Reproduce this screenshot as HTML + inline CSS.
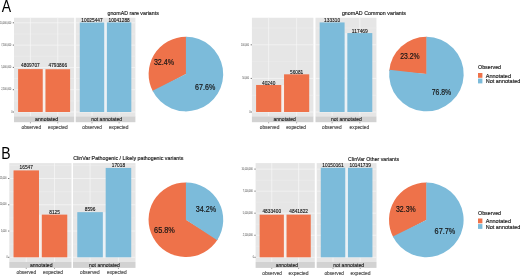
<!DOCTYPE html>
<html><head><meta charset="utf-8"><title>Figure</title>
<style>
html,body{margin:0;padding:0;background:#fff;}
body{width:520px;height:276px;overflow:hidden;font-family:"Liberation Sans",sans-serif;}
svg{display:block;will-change:transform;}
svg text{font-family:"Liberation Sans",sans-serif;}
</style></head><body>
<svg width="520" height="276" viewBox="0 0 520 276">
<rect x="0" y="0" width="520" height="276" fill="#ffffff"/>
<text transform="translate(1.7,11.6) scale(0.845,1)" x="0" y="0" font-size="16.6" fill="#000">A</text>
<text transform="translate(1.34,158.6) scale(0.845,1)" x="0" y="0" font-size="16.6" fill="#000">B</text>
<text x="107.50" y="14.75" font-size="5.8" fill="#1a1a1a" text-anchor="start" textLength="51.30" lengthAdjust="spacingAndGlyphs" stroke="#1a1a1a" stroke-width="0.16">gnomAD rare variants</text>
<rect x="14.00" y="17.75" width="60.20" height="98.75" fill="#E6E6E6"/>
<line x1="14.00" y1="112.00" x2="74.20" y2="112.00" stroke="#F9F9F9" stroke-width="0.65"/>
<line x1="14.00" y1="100.85" x2="74.20" y2="100.85" stroke="#F2F2F2" stroke-width="0.35"/>
<line x1="14.00" y1="89.70" x2="74.20" y2="89.70" stroke="#F9F9F9" stroke-width="0.65"/>
<line x1="14.00" y1="78.55" x2="74.20" y2="78.55" stroke="#F2F2F2" stroke-width="0.35"/>
<line x1="14.00" y1="67.40" x2="74.20" y2="67.40" stroke="#F9F9F9" stroke-width="0.65"/>
<line x1="14.00" y1="56.25" x2="74.20" y2="56.25" stroke="#F2F2F2" stroke-width="0.35"/>
<line x1="14.00" y1="45.10" x2="74.20" y2="45.10" stroke="#F9F9F9" stroke-width="0.65"/>
<line x1="14.00" y1="33.95" x2="74.20" y2="33.95" stroke="#F2F2F2" stroke-width="0.35"/>
<line x1="14.00" y1="22.80" x2="74.20" y2="22.80" stroke="#F9F9F9" stroke-width="0.65"/>
<line x1="30.42" y1="17.75" x2="30.42" y2="116.50" stroke="#F9F9F9" stroke-width="0.65"/>
<line x1="57.78" y1="17.75" x2="57.78" y2="116.50" stroke="#F9F9F9" stroke-width="0.65"/>
<rect x="42.73" y="69.24" width="2.74" height="42.76" fill="#F7EEEA"/>
<rect x="18.10" y="69.10" width="24.63" height="42.90" fill="#EE724A"/>
<text x="30.42" y="67.35" font-size="4.7" fill="#111" text-anchor="middle" textLength="18.62" lengthAdjust="spacingAndGlyphs" stroke="#111" stroke-width="0.1">4809707</text>
<rect x="45.47" y="69.24" width="24.63" height="42.76" fill="#EE724A"/>
<text x="57.78" y="67.49" font-size="4.7" fill="#111" text-anchor="middle" textLength="18.62" lengthAdjust="spacingAndGlyphs" stroke="#111" stroke-width="0.1">4793866</text>
<rect x="14.00" y="116.40" width="60.20" height="5.80" fill="#D2D2D2"/>
<text x="35.10" y="120.75" font-size="5.8" fill="#1a1a1a" text-anchor="start" textLength="23.10" lengthAdjust="spacingAndGlyphs" stroke="#1a1a1a" stroke-width="0.15">annotated</text>
<line x1="30.42" y1="122.20" x2="30.42" y2="123.30" stroke="#444" stroke-width="0.5"/>
<line x1="57.78" y1="122.20" x2="57.78" y2="123.30" stroke="#444" stroke-width="0.5"/>
<text x="21.50" y="128.65" font-size="5.6" fill="#4d4d4d" text-anchor="start" textLength="19.70" lengthAdjust="spacingAndGlyphs" stroke="#4d4d4d" stroke-width="0.16">observed</text>
<text x="48.00" y="128.65" font-size="5.6" fill="#4d4d4d" text-anchor="start" textLength="19.70" lengthAdjust="spacingAndGlyphs" stroke="#4d4d4d" stroke-width="0.16">expected</text>
<rect x="75.70" y="17.75" width="59.70" height="98.75" fill="#E6E6E6"/>
<line x1="75.70" y1="112.00" x2="135.40" y2="112.00" stroke="#F9F9F9" stroke-width="0.65"/>
<line x1="75.70" y1="100.85" x2="135.40" y2="100.85" stroke="#F2F2F2" stroke-width="0.35"/>
<line x1="75.70" y1="89.70" x2="135.40" y2="89.70" stroke="#F9F9F9" stroke-width="0.65"/>
<line x1="75.70" y1="78.55" x2="135.40" y2="78.55" stroke="#F2F2F2" stroke-width="0.35"/>
<line x1="75.70" y1="67.40" x2="135.40" y2="67.40" stroke="#F9F9F9" stroke-width="0.65"/>
<line x1="75.70" y1="56.25" x2="135.40" y2="56.25" stroke="#F2F2F2" stroke-width="0.35"/>
<line x1="75.70" y1="45.10" x2="135.40" y2="45.10" stroke="#F9F9F9" stroke-width="0.65"/>
<line x1="75.70" y1="33.95" x2="135.40" y2="33.95" stroke="#F2F2F2" stroke-width="0.35"/>
<line x1="75.70" y1="22.80" x2="135.40" y2="22.80" stroke="#F9F9F9" stroke-width="0.65"/>
<line x1="91.98" y1="17.75" x2="91.98" y2="116.50" stroke="#F9F9F9" stroke-width="0.65"/>
<line x1="119.12" y1="17.75" x2="119.12" y2="116.50" stroke="#F9F9F9" stroke-width="0.65"/>
<rect x="104.19" y="22.57" width="2.71" height="89.43" fill="#EAF1F6"/>
<rect x="79.77" y="22.57" width="24.42" height="89.43" fill="#7CBBDA"/>
<text x="91.98" y="21.82" font-size="4.7" fill="#111" text-anchor="middle" textLength="21.28" lengthAdjust="spacingAndGlyphs" stroke="#111" stroke-width="0.1">10025447</text>
<rect x="106.91" y="22.43" width="24.42" height="89.57" fill="#7CBBDA"/>
<text x="119.12" y="21.68" font-size="4.7" fill="#111" text-anchor="middle" textLength="21.28" lengthAdjust="spacingAndGlyphs" stroke="#111" stroke-width="0.1">10041288</text>
<rect x="75.70" y="116.40" width="59.70" height="5.80" fill="#D2D2D2"/>
<text x="91.20" y="120.75" font-size="5.8" fill="#1a1a1a" text-anchor="start" textLength="30.80" lengthAdjust="spacingAndGlyphs" stroke="#1a1a1a" stroke-width="0.15">not annotated</text>
<line x1="91.98" y1="122.20" x2="91.98" y2="123.30" stroke="#444" stroke-width="0.5"/>
<line x1="119.12" y1="122.20" x2="119.12" y2="123.30" stroke="#444" stroke-width="0.5"/>
<text x="82.30" y="128.65" font-size="5.6" fill="#4d4d4d" text-anchor="start" textLength="19.50" lengthAdjust="spacingAndGlyphs" stroke="#4d4d4d" stroke-width="0.16">observed</text>
<text x="108.90" y="128.65" font-size="5.6" fill="#4d4d4d" text-anchor="start" textLength="19.60" lengthAdjust="spacingAndGlyphs" stroke="#4d4d4d" stroke-width="0.16">expected</text>
<line x1="12.80" y1="112.00" x2="14.00" y2="112.00" stroke="#333" stroke-width="0.7"/>
<text transform="translate(11.25,112.70) scale(1,0.8)" font-size="3.2" fill="#3c3c3c" textLength="1.25" lengthAdjust="spacingAndGlyphs">0</text>
<line x1="12.80" y1="89.70" x2="14.00" y2="89.70" stroke="#333" stroke-width="0.7"/>
<text transform="translate(1.20,90.40) scale(1,0.8)" font-size="3.2" fill="#3c3c3c" textLength="10.00" lengthAdjust="spacingAndGlyphs">2,500,000</text>
<line x1="12.80" y1="67.40" x2="14.00" y2="67.40" stroke="#333" stroke-width="0.7"/>
<text transform="translate(1.20,68.10) scale(1,0.8)" font-size="3.2" fill="#3c3c3c" textLength="10.00" lengthAdjust="spacingAndGlyphs">5,000,000</text>
<line x1="12.80" y1="45.10" x2="14.00" y2="45.10" stroke="#333" stroke-width="0.7"/>
<text transform="translate(1.20,45.80) scale(1,0.8)" font-size="3.2" fill="#3c3c3c" textLength="10.00" lengthAdjust="spacingAndGlyphs">7,500,000</text>
<line x1="12.80" y1="22.80" x2="14.00" y2="22.80" stroke="#333" stroke-width="0.7"/>
<text transform="translate(-0.05,23.50) scale(1,0.8)" font-size="3.2" fill="#3c3c3c" textLength="11.25" lengthAdjust="spacingAndGlyphs">10,000,000</text>
<path d="M185.90,74.10 L153.08,91.82 A37.30,37.30 0 0 1 186.30,36.80 L186.30,74.10 Z" fill="#EE724A"/>
<path d="M185.90,74.10 L185.90,36.80 A37.30,37.30 0 1 1 152.56,90.82 Z" fill="#7CBBDA"/>
<text x="153.90" y="64.80" font-size="8.4" fill="#151515" text-anchor="start" textLength="20.20" lengthAdjust="spacingAndGlyphs" stroke="#151515" stroke-width="0.18">32.4%</text>
<text x="195.10" y="89.50" font-size="8.4" fill="#151515" text-anchor="start" textLength="20.20" lengthAdjust="spacingAndGlyphs" stroke="#151515" stroke-width="0.18">67.6%</text>
<text x="341.90" y="15.00" font-size="5.8" fill="#1a1a1a" text-anchor="start" textLength="64.10" lengthAdjust="spacingAndGlyphs" stroke="#1a1a1a" stroke-width="0.16">gnomAD Common variants</text>
<rect x="251.90" y="17.75" width="61.50" height="98.75" fill="#E6E6E6"/>
<line x1="251.90" y1="112.00" x2="313.40" y2="112.00" stroke="#F9F9F9" stroke-width="0.65"/>
<line x1="251.90" y1="95.20" x2="313.40" y2="95.20" stroke="#F2F2F2" stroke-width="0.35"/>
<line x1="251.90" y1="78.41" x2="313.40" y2="78.41" stroke="#F9F9F9" stroke-width="0.65"/>
<line x1="251.90" y1="61.61" x2="313.40" y2="61.61" stroke="#F2F2F2" stroke-width="0.35"/>
<line x1="251.90" y1="44.82" x2="313.40" y2="44.82" stroke="#F9F9F9" stroke-width="0.65"/>
<line x1="251.90" y1="28.02" x2="313.40" y2="28.02" stroke="#F2F2F2" stroke-width="0.35"/>
<line x1="268.67" y1="17.75" x2="268.67" y2="116.50" stroke="#F9F9F9" stroke-width="0.65"/>
<line x1="296.63" y1="17.75" x2="296.63" y2="116.50" stroke="#F9F9F9" stroke-width="0.65"/>
<rect x="281.25" y="84.97" width="2.80" height="27.03" fill="#F7EEEA"/>
<rect x="256.09" y="84.97" width="25.16" height="27.03" fill="#EE724A"/>
<text x="268.67" y="84.57" font-size="4.7" fill="#111" text-anchor="middle" textLength="13.30" lengthAdjust="spacingAndGlyphs" stroke="#111" stroke-width="0.1">40240</text>
<rect x="284.05" y="74.32" width="25.16" height="37.68" fill="#EE724A"/>
<text x="296.63" y="73.92" font-size="4.7" fill="#111" text-anchor="middle" textLength="13.30" lengthAdjust="spacingAndGlyphs" stroke="#111" stroke-width="0.1">56081</text>
<rect x="251.90" y="116.40" width="61.50" height="5.80" fill="#D2D2D2"/>
<text x="273.50" y="120.75" font-size="5.8" fill="#1a1a1a" text-anchor="start" textLength="22.30" lengthAdjust="spacingAndGlyphs" stroke="#1a1a1a" stroke-width="0.15">annotated</text>
<line x1="268.67" y1="122.20" x2="268.67" y2="123.30" stroke="#444" stroke-width="0.5"/>
<line x1="296.63" y1="122.20" x2="296.63" y2="123.30" stroke="#444" stroke-width="0.5"/>
<text x="259.80" y="128.65" font-size="5.6" fill="#4d4d4d" text-anchor="start" textLength="19.60" lengthAdjust="spacingAndGlyphs" stroke="#4d4d4d" stroke-width="0.16">observed</text>
<text x="286.30" y="128.65" font-size="5.6" fill="#4d4d4d" text-anchor="start" textLength="19.70" lengthAdjust="spacingAndGlyphs" stroke="#4d4d4d" stroke-width="0.16">expected</text>
<rect x="315.50" y="17.75" width="60.95" height="98.75" fill="#E6E6E6"/>
<line x1="315.50" y1="112.00" x2="376.45" y2="112.00" stroke="#F9F9F9" stroke-width="0.65"/>
<line x1="315.50" y1="95.20" x2="376.45" y2="95.20" stroke="#F2F2F2" stroke-width="0.35"/>
<line x1="315.50" y1="78.41" x2="376.45" y2="78.41" stroke="#F9F9F9" stroke-width="0.65"/>
<line x1="315.50" y1="61.61" x2="376.45" y2="61.61" stroke="#F2F2F2" stroke-width="0.35"/>
<line x1="315.50" y1="44.82" x2="376.45" y2="44.82" stroke="#F9F9F9" stroke-width="0.65"/>
<line x1="315.50" y1="28.02" x2="376.45" y2="28.02" stroke="#F2F2F2" stroke-width="0.35"/>
<line x1="332.12" y1="17.75" x2="332.12" y2="116.50" stroke="#F9F9F9" stroke-width="0.65"/>
<line x1="359.83" y1="17.75" x2="359.83" y2="116.50" stroke="#F9F9F9" stroke-width="0.65"/>
<rect x="344.59" y="33.08" width="2.77" height="78.92" fill="#EAF1F6"/>
<rect x="319.66" y="22.44" width="24.93" height="89.56" fill="#7CBBDA"/>
<text x="332.12" y="22.09" font-size="4.7" fill="#111" text-anchor="middle" textLength="15.96" lengthAdjust="spacingAndGlyphs" stroke="#111" stroke-width="0.1">133310</text>
<rect x="347.36" y="33.08" width="24.93" height="78.92" fill="#7CBBDA"/>
<text x="359.83" y="32.73" font-size="4.7" fill="#111" text-anchor="middle" textLength="15.96" lengthAdjust="spacingAndGlyphs" stroke="#111" stroke-width="0.1">117469</text>
<rect x="315.50" y="116.40" width="60.95" height="5.80" fill="#D2D2D2"/>
<text x="331.00" y="120.75" font-size="5.8" fill="#1a1a1a" text-anchor="start" textLength="30.80" lengthAdjust="spacingAndGlyphs" stroke="#1a1a1a" stroke-width="0.15">not annotated</text>
<line x1="332.12" y1="122.20" x2="332.12" y2="123.30" stroke="#444" stroke-width="0.5"/>
<line x1="359.83" y1="122.20" x2="359.83" y2="123.30" stroke="#444" stroke-width="0.5"/>
<text x="322.00" y="128.65" font-size="5.6" fill="#4d4d4d" text-anchor="start" textLength="19.60" lengthAdjust="spacingAndGlyphs" stroke="#4d4d4d" stroke-width="0.16">observed</text>
<text x="349.60" y="128.65" font-size="5.6" fill="#4d4d4d" text-anchor="start" textLength="19.60" lengthAdjust="spacingAndGlyphs" stroke="#4d4d4d" stroke-width="0.16">expected</text>
<line x1="250.70" y1="112.00" x2="251.90" y2="112.00" stroke="#333" stroke-width="0.7"/>
<text transform="translate(249.15,112.70) scale(1,0.8)" font-size="3.2" fill="#3c3c3c" textLength="1.25" lengthAdjust="spacingAndGlyphs">0</text>
<line x1="250.70" y1="78.41" x2="251.90" y2="78.41" stroke="#333" stroke-width="0.7"/>
<text transform="translate(242.22,79.11) scale(1,0.8)" font-size="3.2" fill="#3c3c3c" textLength="6.88" lengthAdjust="spacingAndGlyphs">50,000</text>
<line x1="250.70" y1="44.82" x2="251.90" y2="44.82" stroke="#333" stroke-width="0.7"/>
<text transform="translate(240.97,45.52) scale(1,0.8)" font-size="3.2" fill="#3c3c3c" textLength="8.12" lengthAdjust="spacingAndGlyphs">100,000</text>
<path d="M426.40,74.05 L389.23,70.95 A37.30,37.30 0 0 1 426.80,36.75 L426.80,74.05 Z" fill="#EE724A"/>
<path d="M426.40,74.05 L426.40,36.75 A37.30,37.30 0 1 1 389.34,69.84 Z" fill="#7CBBDA"/>
<text x="400.30" y="59.20" font-size="8.4" fill="#151515" text-anchor="start" textLength="19.40" lengthAdjust="spacingAndGlyphs" stroke="#151515" stroke-width="0.18">23.2%</text>
<text x="431.80" y="94.80" font-size="8.4" fill="#151515" text-anchor="start" textLength="19.40" lengthAdjust="spacingAndGlyphs" stroke="#151515" stroke-width="0.18">76.8%</text>
<text x="478.00" y="69.10" font-size="5.6" fill="#1a1a1a" text-anchor="start" textLength="23.10" lengthAdjust="spacingAndGlyphs" stroke="#1a1a1a" stroke-width="0.16">Observed</text>
<rect x="478.00" y="73.00" width="4.40" height="4.80" fill="#EE724A"/>
<rect x="478.00" y="78.60" width="4.40" height="4.80" fill="#7CBBDA"/>
<text x="485.70" y="77.50" font-size="5.5" fill="#1a1a1a" text-anchor="start" textLength="25.30" lengthAdjust="spacingAndGlyphs" stroke="#1a1a1a" stroke-width="0.16">Annotated</text>
<text x="485.70" y="83.20" font-size="5.5" fill="#1a1a1a" text-anchor="start" textLength="34.60" lengthAdjust="spacingAndGlyphs" stroke="#1a1a1a" stroke-width="0.16">Not annotated</text>
<text x="73.20" y="160.40" font-size="5.8" fill="#1a1a1a" text-anchor="start" textLength="110.20" lengthAdjust="spacingAndGlyphs" stroke="#1a1a1a" stroke-width="0.16">ClinVar Pathogenic / Likely pathogenic variants</text>
<rect x="9.30" y="163.10" width="62.20" height="98.90" fill="#E6E6E6"/>
<line x1="9.30" y1="257.30" x2="71.50" y2="257.30" stroke="#F9F9F9" stroke-width="0.65"/>
<line x1="9.30" y1="244.17" x2="71.50" y2="244.17" stroke="#F2F2F2" stroke-width="0.35"/>
<line x1="9.30" y1="231.04" x2="71.50" y2="231.04" stroke="#F9F9F9" stroke-width="0.65"/>
<line x1="9.30" y1="217.91" x2="71.50" y2="217.91" stroke="#F2F2F2" stroke-width="0.35"/>
<line x1="9.30" y1="204.78" x2="71.50" y2="204.78" stroke="#F9F9F9" stroke-width="0.65"/>
<line x1="9.30" y1="191.65" x2="71.50" y2="191.65" stroke="#F2F2F2" stroke-width="0.35"/>
<line x1="9.30" y1="178.52" x2="71.50" y2="178.52" stroke="#F9F9F9" stroke-width="0.65"/>
<line x1="9.30" y1="165.40" x2="71.50" y2="165.40" stroke="#F2F2F2" stroke-width="0.35"/>
<line x1="26.26" y1="163.10" x2="26.26" y2="262.00" stroke="#F9F9F9" stroke-width="0.65"/>
<line x1="54.54" y1="163.10" x2="54.54" y2="262.00" stroke="#F9F9F9" stroke-width="0.65"/>
<rect x="38.99" y="214.63" width="2.83" height="42.67" fill="#F7EEEA"/>
<rect x="13.54" y="170.40" width="25.45" height="86.90" fill="#EE724A"/>
<text x="26.26" y="169.20" font-size="4.7" fill="#111" text-anchor="middle" textLength="13.30" lengthAdjust="spacingAndGlyphs" stroke="#111" stroke-width="0.1">16547</text>
<rect x="41.81" y="214.63" width="25.45" height="42.67" fill="#EE724A"/>
<text x="54.54" y="214.28" font-size="4.7" fill="#111" text-anchor="middle" textLength="10.64" lengthAdjust="spacingAndGlyphs" stroke="#111" stroke-width="0.1">8125</text>
<rect x="9.30" y="262.00" width="62.20" height="5.90" fill="#D2D2D2"/>
<text x="29.90" y="266.70" font-size="5.8" fill="#1a1a1a" text-anchor="start" textLength="22.60" lengthAdjust="spacingAndGlyphs" stroke="#1a1a1a" stroke-width="0.15">annotated</text>
<line x1="26.26" y1="267.90" x2="26.26" y2="269.00" stroke="#444" stroke-width="0.5"/>
<line x1="54.54" y1="267.90" x2="54.54" y2="269.00" stroke="#444" stroke-width="0.5"/>
<text x="16.50" y="274.25" font-size="5.6" fill="#4d4d4d" text-anchor="start" textLength="19.70" lengthAdjust="spacingAndGlyphs" stroke="#4d4d4d" stroke-width="0.16">observed</text>
<text x="43.00" y="274.25" font-size="5.6" fill="#4d4d4d" text-anchor="start" textLength="20.00" lengthAdjust="spacingAndGlyphs" stroke="#4d4d4d" stroke-width="0.16">expected</text>
<rect x="73.00" y="163.10" width="62.50" height="98.90" fill="#E6E6E6"/>
<line x1="73.00" y1="257.30" x2="135.50" y2="257.30" stroke="#F9F9F9" stroke-width="0.65"/>
<line x1="73.00" y1="244.17" x2="135.50" y2="244.17" stroke="#F2F2F2" stroke-width="0.35"/>
<line x1="73.00" y1="231.04" x2="135.50" y2="231.04" stroke="#F9F9F9" stroke-width="0.65"/>
<line x1="73.00" y1="217.91" x2="135.50" y2="217.91" stroke="#F2F2F2" stroke-width="0.35"/>
<line x1="73.00" y1="204.78" x2="135.50" y2="204.78" stroke="#F9F9F9" stroke-width="0.65"/>
<line x1="73.00" y1="191.65" x2="135.50" y2="191.65" stroke="#F2F2F2" stroke-width="0.35"/>
<line x1="73.00" y1="178.52" x2="135.50" y2="178.52" stroke="#F9F9F9" stroke-width="0.65"/>
<line x1="73.00" y1="165.40" x2="135.50" y2="165.40" stroke="#F2F2F2" stroke-width="0.35"/>
<line x1="90.05" y1="163.10" x2="90.05" y2="262.00" stroke="#F9F9F9" stroke-width="0.65"/>
<line x1="118.45" y1="163.10" x2="118.45" y2="262.00" stroke="#F9F9F9" stroke-width="0.65"/>
<rect x="102.83" y="212.16" width="2.84" height="45.14" fill="#EAF1F6"/>
<rect x="77.26" y="212.16" width="25.57" height="45.14" fill="#7CBBDA"/>
<text x="90.05" y="211.36" font-size="4.7" fill="#111" text-anchor="middle" textLength="10.64" lengthAdjust="spacingAndGlyphs" stroke="#111" stroke-width="0.1">8596</text>
<rect x="105.67" y="167.93" width="25.57" height="89.37" fill="#7CBBDA"/>
<text x="118.45" y="167.38" font-size="4.7" fill="#111" text-anchor="middle" textLength="13.30" lengthAdjust="spacingAndGlyphs" stroke="#111" stroke-width="0.1">17018</text>
<rect x="73.00" y="262.00" width="62.50" height="5.90" fill="#D2D2D2"/>
<text x="89.00" y="266.70" font-size="5.8" fill="#1a1a1a" text-anchor="start" textLength="30.80" lengthAdjust="spacingAndGlyphs" stroke="#1a1a1a" stroke-width="0.15">not annotated</text>
<line x1="90.05" y1="267.90" x2="90.05" y2="269.00" stroke="#444" stroke-width="0.5"/>
<line x1="118.45" y1="267.90" x2="118.45" y2="269.00" stroke="#444" stroke-width="0.5"/>
<text x="80.00" y="274.25" font-size="5.6" fill="#4d4d4d" text-anchor="start" textLength="19.60" lengthAdjust="spacingAndGlyphs" stroke="#4d4d4d" stroke-width="0.16">observed</text>
<text x="107.00" y="274.25" font-size="5.6" fill="#4d4d4d" text-anchor="start" textLength="19.60" lengthAdjust="spacingAndGlyphs" stroke="#4d4d4d" stroke-width="0.16">expected</text>
<line x1="8.10" y1="257.30" x2="9.30" y2="257.30" stroke="#333" stroke-width="0.7"/>
<text transform="translate(6.55,258.00) scale(1,0.8)" font-size="3.2" fill="#3c3c3c" textLength="1.25" lengthAdjust="spacingAndGlyphs">0</text>
<line x1="8.10" y1="231.04" x2="9.30" y2="231.04" stroke="#333" stroke-width="0.7"/>
<text transform="translate(0.88,231.74) scale(1,0.8)" font-size="3.2" fill="#3c3c3c" textLength="5.62" lengthAdjust="spacingAndGlyphs">5,000</text>
<line x1="8.10" y1="204.78" x2="9.30" y2="204.78" stroke="#333" stroke-width="0.7"/>
<text transform="translate(-0.37,205.48) scale(1,0.8)" font-size="3.2" fill="#3c3c3c" textLength="6.88" lengthAdjust="spacingAndGlyphs">10,000</text>
<line x1="8.10" y1="178.52" x2="9.30" y2="178.52" stroke="#333" stroke-width="0.7"/>
<text transform="translate(-0.37,179.22) scale(1,0.8)" font-size="3.2" fill="#3c3c3c" textLength="6.88" lengthAdjust="spacingAndGlyphs">15,000</text>
<path d="M185.90,219.75 L217.78,239.21 A37.35,37.35 0 1 1 186.30,182.40 L186.30,219.75 Z" fill="#EE724A"/>
<path d="M185.90,219.75 L185.90,182.40 A37.35,37.35 0 0 1 217.18,240.16 Z" fill="#7CBBDA"/>
<text x="195.70" y="211.50" font-size="8.4" fill="#151515" text-anchor="start" textLength="20.40" lengthAdjust="spacingAndGlyphs" stroke="#151515" stroke-width="0.18">34.2%</text>
<text x="154.10" y="232.50" font-size="8.4" fill="#151515" text-anchor="start" textLength="20.80" lengthAdjust="spacingAndGlyphs" stroke="#151515" stroke-width="0.18">65.8%</text>
<text x="348.10" y="160.80" font-size="5.8" fill="#1a1a1a" text-anchor="start" textLength="50.90" lengthAdjust="spacingAndGlyphs" stroke="#1a1a1a" stroke-width="0.16">ClinVar Other variants</text>
<rect x="255.60" y="163.10" width="59.20" height="98.90" fill="#E6E6E6"/>
<line x1="255.60" y1="257.30" x2="314.80" y2="257.30" stroke="#F9F9F9" stroke-width="0.65"/>
<line x1="255.60" y1="246.28" x2="314.80" y2="246.28" stroke="#F2F2F2" stroke-width="0.35"/>
<line x1="255.60" y1="235.25" x2="314.80" y2="235.25" stroke="#F9F9F9" stroke-width="0.65"/>
<line x1="255.60" y1="224.23" x2="314.80" y2="224.23" stroke="#F2F2F2" stroke-width="0.35"/>
<line x1="255.60" y1="213.20" x2="314.80" y2="213.20" stroke="#F9F9F9" stroke-width="0.65"/>
<line x1="255.60" y1="202.18" x2="314.80" y2="202.18" stroke="#F2F2F2" stroke-width="0.35"/>
<line x1="255.60" y1="191.15" x2="314.80" y2="191.15" stroke="#F9F9F9" stroke-width="0.65"/>
<line x1="255.60" y1="180.12" x2="314.80" y2="180.12" stroke="#F2F2F2" stroke-width="0.35"/>
<line x1="255.60" y1="169.10" x2="314.80" y2="169.10" stroke="#F9F9F9" stroke-width="0.65"/>
<line x1="271.75" y1="163.10" x2="271.75" y2="262.00" stroke="#F9F9F9" stroke-width="0.65"/>
<line x1="298.65" y1="163.10" x2="298.65" y2="262.00" stroke="#F9F9F9" stroke-width="0.65"/>
<rect x="283.85" y="214.67" width="2.69" height="42.63" fill="#F7EEEA"/>
<rect x="259.64" y="214.67" width="24.22" height="42.63" fill="#EE724A"/>
<text x="271.75" y="213.47" font-size="4.7" fill="#111" text-anchor="middle" textLength="18.62" lengthAdjust="spacingAndGlyphs" stroke="#111" stroke-width="0.1">4833400</text>
<rect x="286.55" y="214.60" width="24.22" height="42.70" fill="#EE724A"/>
<text x="298.65" y="213.40" font-size="4.7" fill="#111" text-anchor="middle" textLength="18.62" lengthAdjust="spacingAndGlyphs" stroke="#111" stroke-width="0.1">4841822</text>
<rect x="255.60" y="262.00" width="59.20" height="5.90" fill="#D2D2D2"/>
<text x="275.80" y="266.70" font-size="5.8" fill="#1a1a1a" text-anchor="start" textLength="22.20" lengthAdjust="spacingAndGlyphs" stroke="#1a1a1a" stroke-width="0.15">annotated</text>
<line x1="271.75" y1="267.90" x2="271.75" y2="269.00" stroke="#444" stroke-width="0.5"/>
<line x1="298.65" y1="267.90" x2="298.65" y2="269.00" stroke="#444" stroke-width="0.5"/>
<text x="262.30" y="274.85" font-size="5.6" fill="#4d4d4d" text-anchor="start" textLength="19.70" lengthAdjust="spacingAndGlyphs" stroke="#4d4d4d" stroke-width="0.16">observed</text>
<text x="288.40" y="274.85" font-size="5.6" fill="#4d4d4d" text-anchor="start" textLength="20.20" lengthAdjust="spacingAndGlyphs" stroke="#4d4d4d" stroke-width="0.16">expected</text>
<rect x="316.70" y="163.10" width="59.80" height="98.90" fill="#E6E6E6"/>
<line x1="316.70" y1="257.30" x2="376.50" y2="257.30" stroke="#F9F9F9" stroke-width="0.65"/>
<line x1="316.70" y1="246.28" x2="376.50" y2="246.28" stroke="#F2F2F2" stroke-width="0.35"/>
<line x1="316.70" y1="235.25" x2="376.50" y2="235.25" stroke="#F9F9F9" stroke-width="0.65"/>
<line x1="316.70" y1="224.23" x2="376.50" y2="224.23" stroke="#F2F2F2" stroke-width="0.35"/>
<line x1="316.70" y1="213.20" x2="376.50" y2="213.20" stroke="#F9F9F9" stroke-width="0.65"/>
<line x1="316.70" y1="202.18" x2="376.50" y2="202.18" stroke="#F2F2F2" stroke-width="0.35"/>
<line x1="316.70" y1="191.15" x2="376.50" y2="191.15" stroke="#F9F9F9" stroke-width="0.65"/>
<line x1="316.70" y1="180.12" x2="376.50" y2="180.12" stroke="#F2F2F2" stroke-width="0.35"/>
<line x1="316.70" y1="169.10" x2="376.50" y2="169.10" stroke="#F9F9F9" stroke-width="0.65"/>
<line x1="333.01" y1="163.10" x2="333.01" y2="262.00" stroke="#F9F9F9" stroke-width="0.65"/>
<line x1="360.19" y1="163.10" x2="360.19" y2="262.00" stroke="#F9F9F9" stroke-width="0.65"/>
<rect x="345.24" y="167.85" width="2.72" height="89.45" fill="#EAF1F6"/>
<rect x="320.78" y="167.78" width="24.46" height="89.52" fill="#7CBBDA"/>
<text x="333.01" y="166.58" font-size="4.7" fill="#111" text-anchor="middle" textLength="21.28" lengthAdjust="spacingAndGlyphs" stroke="#111" stroke-width="0.1">10150161</text>
<rect x="347.96" y="167.85" width="24.46" height="89.45" fill="#7CBBDA"/>
<text x="360.19" y="166.65" font-size="4.7" fill="#111" text-anchor="middle" textLength="21.28" lengthAdjust="spacingAndGlyphs" stroke="#111" stroke-width="0.1">10141739</text>
<rect x="316.70" y="262.00" width="59.80" height="5.90" fill="#D2D2D2"/>
<text x="333.20" y="266.70" font-size="5.8" fill="#1a1a1a" text-anchor="start" textLength="30.80" lengthAdjust="spacingAndGlyphs" stroke="#1a1a1a" stroke-width="0.15">not annotated</text>
<line x1="333.01" y1="267.90" x2="333.01" y2="269.00" stroke="#444" stroke-width="0.5"/>
<line x1="360.19" y1="267.90" x2="360.19" y2="269.00" stroke="#444" stroke-width="0.5"/>
<text x="324.40" y="274.85" font-size="5.6" fill="#4d4d4d" text-anchor="start" textLength="19.60" lengthAdjust="spacingAndGlyphs" stroke="#4d4d4d" stroke-width="0.16">observed</text>
<text x="350.40" y="274.85" font-size="5.6" fill="#4d4d4d" text-anchor="start" textLength="20.10" lengthAdjust="spacingAndGlyphs" stroke="#4d4d4d" stroke-width="0.16">expected</text>
<line x1="254.40" y1="257.30" x2="255.60" y2="257.30" stroke="#333" stroke-width="0.7"/>
<text transform="translate(252.85,258.00) scale(1,0.8)" font-size="3.2" fill="#3c3c3c" textLength="1.25" lengthAdjust="spacingAndGlyphs">0</text>
<line x1="254.40" y1="235.25" x2="255.60" y2="235.25" stroke="#333" stroke-width="0.7"/>
<text transform="translate(242.80,235.95) scale(1,0.8)" font-size="3.2" fill="#3c3c3c" textLength="10.00" lengthAdjust="spacingAndGlyphs">2,500,000</text>
<line x1="254.40" y1="213.20" x2="255.60" y2="213.20" stroke="#333" stroke-width="0.7"/>
<text transform="translate(242.80,213.90) scale(1,0.8)" font-size="3.2" fill="#3c3c3c" textLength="10.00" lengthAdjust="spacingAndGlyphs">5,000,000</text>
<line x1="254.40" y1="191.15" x2="255.60" y2="191.15" stroke="#333" stroke-width="0.7"/>
<text transform="translate(242.80,191.85) scale(1,0.8)" font-size="3.2" fill="#3c3c3c" textLength="10.00" lengthAdjust="spacingAndGlyphs">7,500,000</text>
<line x1="254.40" y1="169.10" x2="255.60" y2="169.10" stroke="#333" stroke-width="0.7"/>
<text transform="translate(241.55,169.80) scale(1,0.8)" font-size="3.2" fill="#3c3c3c" textLength="11.25" lengthAdjust="spacingAndGlyphs">10,000,000</text>
<path d="M426.30,219.90 L393.37,237.41 A37.30,37.30 0 0 1 426.70,182.60 L426.70,219.90 Z" fill="#EE724A"/>
<path d="M426.30,219.90 L426.30,182.60 A37.30,37.30 0 1 1 392.86,236.41 Z" fill="#7CBBDA"/>
<text x="396.00" y="211.70" font-size="8.4" fill="#151515" text-anchor="start" textLength="19.70" lengthAdjust="spacingAndGlyphs" stroke="#151515" stroke-width="0.18">32.3%</text>
<text x="434.60" y="234.20" font-size="8.4" fill="#151515" text-anchor="start" textLength="20.70" lengthAdjust="spacingAndGlyphs" stroke="#151515" stroke-width="0.18">67.7%</text>
<text x="478.00" y="215.00" font-size="5.6" fill="#1a1a1a" text-anchor="start" textLength="23.10" lengthAdjust="spacingAndGlyphs" stroke="#1a1a1a" stroke-width="0.16">Observed</text>
<rect x="478.00" y="218.50" width="4.40" height="4.80" fill="#EE724A"/>
<rect x="478.00" y="224.10" width="4.40" height="4.80" fill="#7CBBDA"/>
<text x="485.70" y="223.00" font-size="5.5" fill="#1a1a1a" text-anchor="start" textLength="25.30" lengthAdjust="spacingAndGlyphs" stroke="#1a1a1a" stroke-width="0.16">Annotated</text>
<text x="485.70" y="228.70" font-size="5.5" fill="#1a1a1a" text-anchor="start" textLength="34.60" lengthAdjust="spacingAndGlyphs" stroke="#1a1a1a" stroke-width="0.16">Not annotated</text>
</svg>
</body></html>
